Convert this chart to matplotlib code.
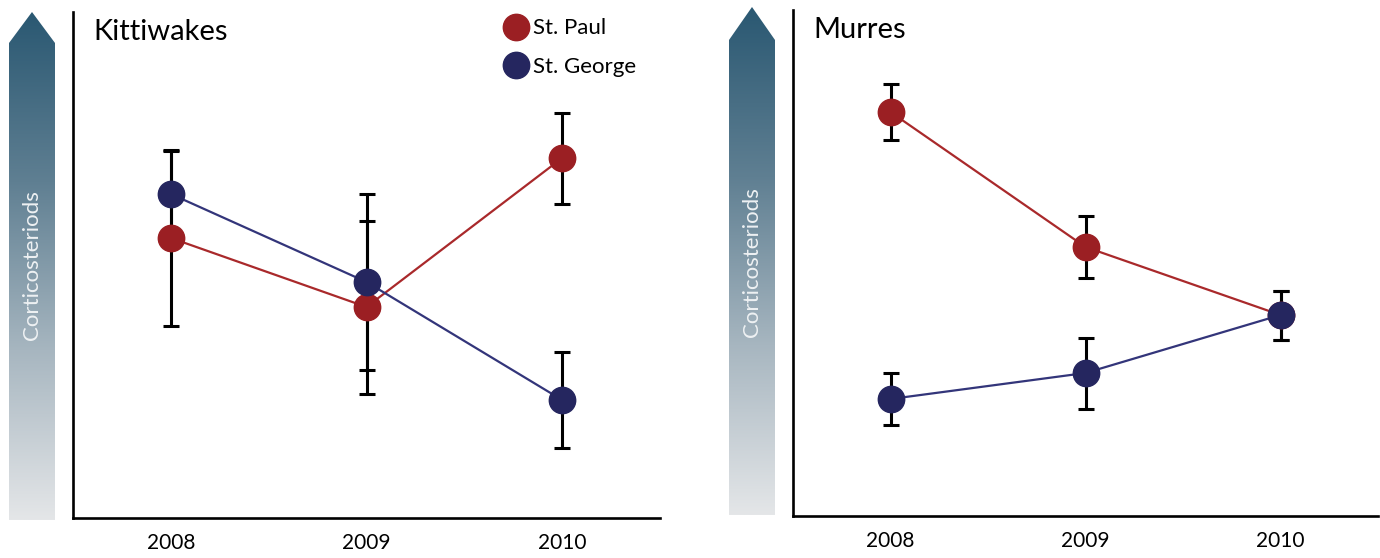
import numpy as np
import matplotlib
matplotlib.use("Agg")
import matplotlib.pyplot as plt
from matplotlib.patches import Polygon
from matplotlib.colors import LinearSegmentedColormap
from matplotlib.lines import Line2D

plt.rcParams['font.family'] = ['Lato', 'DejaVu Sans']

years = [2008, 2009, 2010]

# Kittiwakes
kitti_paul = [28.0, 21.1, 36.0]
kitti_paul_err = [8.8, 8.65, 4.55]
kitti_george = [32.4, 23.6, 11.8]
kitti_george_err = [4.3, 8.8, 4.8]

# Murres
murre_paul = [40.4, 26.9, 20.1]
murre_paul_err = [2.8, 3.1, 2.45]
murre_george = [11.7, 14.3, 20.1]
murre_george_err = [2.6, 3.55, 2.45]

RED = "#9b1f23"
BLUE = "#25265f"
RED_LINE = "#a9292b"
BLUE_LINE = "#33357a"

W, H = 1380, 558
fig = plt.figure(figsize=(W / 100, H / 100), dpi=100)

ax1 = fig.add_axes([73 / W, (H - 518) / H, 587 / W, 506 / H])
ax2 = fig.add_axes([793 / W, (H - 516) / H, 585 / W, 506 / H])


def draw_panel(ax, paul, paul_err, george, george_err, title):
    ax.plot(years, paul, color=RED_LINE, lw=1.6, zorder=1)
    ax.plot(years, george, color=BLUE_LINE, lw=1.6, zorder=1)
    ax.errorbar(years, paul, yerr=paul_err, fmt="none", ecolor="black",
                elinewidth=2.2, capsize=6, capthick=2.2, zorder=2)
    ax.errorbar(years, george, yerr=george_err, fmt="none", ecolor="black",
                elinewidth=2.2, capsize=6, capthick=2.2, zorder=2)
    ax.plot(years, paul, "o", color=RED, ms=19, mec=RED, zorder=3)
    ax.plot(years, george, "o", color=BLUE, ms=19, mec=BLUE, zorder=4)

    ax.set_xlim(2007.5, 2010.5)
    ax.set_ylim(0, 50.6)
    ax.set_xticks(years)
    ax.set_xticklabels([str(y) for y in years], fontsize=15)
    ax.tick_params(axis="x", length=0, pad=11)
    ax.set_yticks([])
    for s in ["top", "right"]:
        ax.spines[s].set_visible(False)
    for s in ["left", "bottom"]:
        ax.spines[s].set_linewidth(1.9)
        ax.spines[s].set_color("black")
    ax.text(0.034, 0.96, title, transform=ax.transAxes, fontsize=21,
            va="center", ha="left")


draw_panel(ax1, kitti_paul, kitti_paul_err, kitti_george, kitti_george_err, "Kittiwakes")
draw_panel(ax2, murre_paul, murre_paul_err, murre_george, murre_george_err, "Murres")

handles = [
    Line2D([], [], ls="none", marker="o", ms=19, color=RED),
    Line2D([], [], ls="none", marker="o", ms=19, color=BLUE),
]
ax1.legend(handles, ["St. Paul", "St. George"], loc="upper left",
           bbox_to_anchor=(0.72, 1.005), frameon=False, fontsize=16,
           handlelength=1.0, handletextpad=0.3, labelspacing=0.85,
           borderaxespad=0)

# gradient arrows labelled Corticosteriods
over = fig.add_axes([0, 0, 1, 1], zorder=-1)
over.set_xlim(0, W)
over.set_ylim(H, 0)
over.axis("off")
cmap = LinearSegmentedColormap.from_list(
    "cort", ["#2a5872", "#5f7f92", "#a7b6c0", "#e4e6e8"])
grad = np.linspace(0, 1, 256).reshape(-1, 1)

for x0, x1, tip, shoulder, bottom, ty in [(9, 55, 12, 43, 520, 265),
                                          (729, 775, 7, 40, 515, 262)]:
    xm = (x0 + x1) / 2
    poly = Polygon([(x0, bottom), (x0, shoulder), (xm, tip), (x1, shoulder), (x1, bottom)],
                   closed=True, facecolor="none", edgecolor="none")
    over.add_patch(poly)
    im = over.imshow(grad, cmap=cmap, aspect="auto",
                     extent=(x0, x1, bottom, tip), interpolation="bilinear")
    im.set_clip_path(poly)
    over.text(xm, ty, "Corticosteriods", rotation=90, color="#eef1f3",
              fontsize=16, ha="center", va="center")

fig.savefig("out.png", dpi=100)
